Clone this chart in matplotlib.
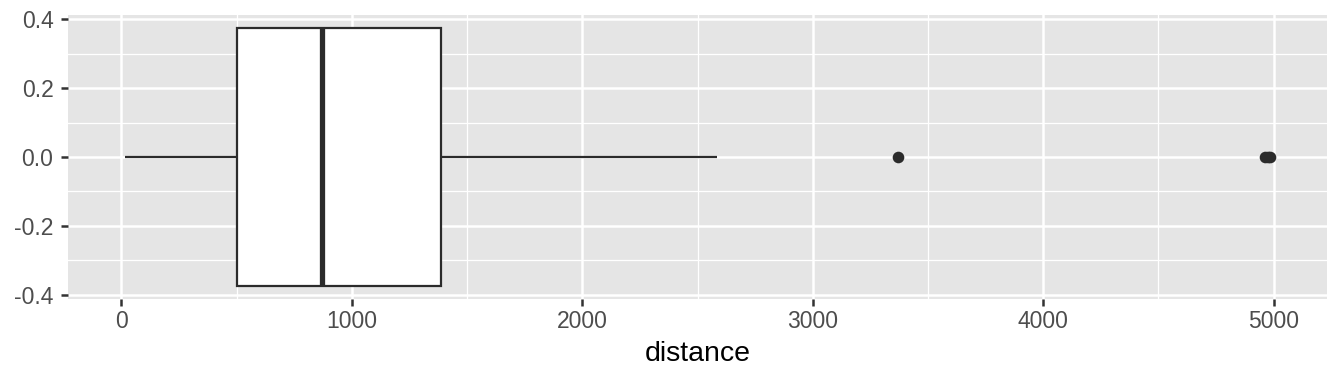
import numpy as np
import matplotlib
matplotlib.use("Agg")
import matplotlib.pyplot as plt

# box statistics for distance
whisker_lo = 17
q1 = 502
median = 872
q3 = 1389
whisker_hi = 2586
outliers = [3370, 4963, 4975, 4983]

xticks = [0, 1000, 2000, 3000, 4000, 5000]
yticks = [-0.4, -0.2, 0.0, 0.2, 0.4]

plt.rcParams['font.family'] = ['Liberation Sans', 'DejaVu Sans']

fig = plt.figure(figsize=(13.44, 3.84), dpi=100)
ax = fig.add_axes([68 / 1344, 1 - 299 / 384, (1327 - 68) / 1344, (299 - 15) / 384])
ax.set_facecolor('#E5E5E5')

dark = '#2B2B2B'
hw = 0.375
# whiskers
ax.plot([whisker_lo, q1], [0, 0], color=dark, lw=1.6, solid_capstyle='butt', zorder=3)
ax.plot([q3, whisker_hi], [0, 0], color=dark, lw=1.6, solid_capstyle='butt', zorder=3)
# box
ax.add_patch(plt.Rectangle((q1, -hw), q3 - q1, 2 * hw, facecolor='white',
                           edgecolor=dark, lw=1.6, zorder=3))
ax.plot([median, median], [-hw, hw], color=dark, lw=3.8, solid_capstyle='butt', zorder=4)
# outliers
ax.scatter(outliers, np.zeros(len(outliers)), s=70, color=dark, zorder=4, linewidths=0)

span = max(outliers) - whisker_lo
ax.set_xlim(whisker_lo - 0.05 * span, max(outliers) + 0.05 * span)
ax.set_ylim(-hw * 1.1, hw * 1.1)

ax.set_xticks(xticks)
ax.set_xticks([500, 1500, 2500, 3500, 4500], minor=True)
ax.set_yticks(yticks)
ax.set_yticks([-0.3, -0.1, 0.1, 0.3], minor=True)
ax.set_yticklabels(['-0.4', '-0.2', '0.0', '0.2', '0.4'])
ax.grid(True, which='major', color='white', lw=1.8)
ax.grid(True, which='minor', color='white', lw=0.9)
ax.set_axisbelow(True)
for s in ax.spines.values():
    s.set_visible(False)

ax.tick_params(which='major', length=5, width=1.8, color='#333333',
               labelsize=16.5, labelcolor='#4D4D4D')
ax.tick_params(axis='x', pad=3)
ax.tick_params(axis='y', pad=5.5)
ax.tick_params(which='minor', length=0)
ax.set_xlabel('distance', fontsize=20.5, color='black', labelpad=6)

fig.savefig('out.png', dpi=100)
